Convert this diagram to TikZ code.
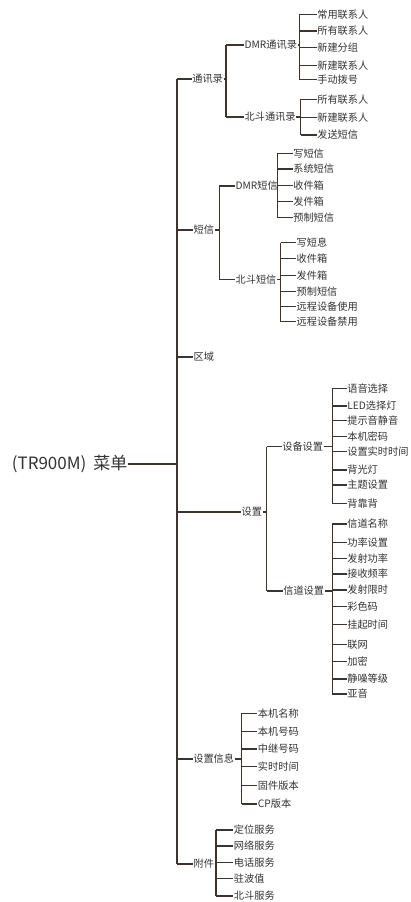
\documentclass[tikz,border=0pt]{standalone}
\usepackage{fontspec}
\setmainfont{Noto Sans CJK SC}
\definecolor{ln}{HTML}{3D3430}
\definecolor{txt}{HTML}{333333}
\begin{document}
\begin{tikzpicture}[x=1pt,y=-1pt,
  t/.style={font=\fontsize{10.2}{12}\selectfont, inner sep=0.4pt, anchor=west, text=txt},
  rt/.style={font=\fontsize{17}{20}\selectfont, inner sep=0.4pt, anchor=east, text=txt},
  ln/.style={draw=ln, line width=1.1pt}]
\useasboundingbox (0,0) rectangle (410,902);
% root
\node[rt] (root) at (128,464) {(TR900M)\hspace{7pt}菜单};
\coordinate (trunk) at (177,464);
% level 1
\node[t] (txl) at (191.7,79) {通讯录};
\node[t] (dx) at (193,230) {短信};
\node[t] (qy) at (193,357) {区域};
\node[t] (sz) at (241,512) {设置};
\node[t] (szxx) at (192.7,759) {设置信息};
\node[t] (fj) at (193,864) {附件};
\draw[ln] (root.east) -- (trunk);
\draw[ln] (txl.west -| trunk) -- (fj.west -| trunk);
\foreach \n in {txl,dx,qy,sz,szxx,fj} \draw[ln] (\n.west -| trunk) -- (\n.west);

% 通讯录
\coordinate (vT) at (226,0);
\node[t] (dmrtx) at (244,45) {DMR通讯录};
\node[t] (bdtx) at (244,117) {北斗通讯录};
\draw[ln] (dmrtx.west -| vT) -- (bdtx.west -| vT);
\draw[ln] (txl.east) -- (txl.east -| vT);
\foreach \n in {dmrtx,bdtx} \draw[ln] (\n.west -| vT) -- (\n.west);

\coordinate (vA) at (299.3,0);
\node[t] (a1) at (316.7,14.3) {常用联系人};
\node[t] (a2) at (316.7,31) {所有联系人};
\node[t] (a3) at (316.7,47.7) {新建分组};
\node[t] (a4) at (316.7,65.7) {新建联系人};
\node[t] (a5) at (316.7,79.3) {手动拨号};
\draw[ln] (a1.west -| vA) -- (a5.west -| vA);
\draw[ln] (dmrtx.east) -- (dmrtx.east -| vA);
\foreach \n in {a1,a2,a3,a4,a5} \draw[ln] (\n.west -| vA) -- (\n.west);

\coordinate (vB) at (300.7,0);
\node[t] (b1) at (316.7,99.3) {所有联系人};
\node[t] (b2) at (316.7,117.7) {新建联系人};
\node[t] (b3) at (316.7,135) {发送短信};
\draw[ln] (b1.west -| vB) -- (b3.west -| vB);
\draw[ln] (bdtx.east) -- (bdtx.east -| vB);
\foreach \n in {b1,b2,b3} \draw[ln] (\n.west -| vB) -- (\n.west);

% 短信
\coordinate (vD) at (219.3,0);
\node[t] (dmrdx) at (235,186) {DMR短信};
\node[t] (bddx) at (235,279.3) {北斗短信};
\draw[ln] (dmrdx.west -| vD) -- (bddx.west -| vD);
\draw[ln] (dx.east) -- (dx.east -| vD);
\foreach \n in {dmrdx,bddx} \draw[ln] (\n.west -| vD) -- (\n.west);

\coordinate (vC) at (277.3,0);
\node[t] (c1) at (292.7,153.3) {写短信};
\node[t] (c2) at (292.7,169) {系统短信};
\node[t] (c3) at (292.7,185.7) {收件箱};
\node[t] (c4) at (292.7,201.7) {发件箱};
\node[t] (c5) at (292.7,217.7) {预制短信};
\draw[ln] (c1.west -| vC) -- (c5.west -| vC);
\draw[ln] (dmrdx.east) -- (dmrdx.east -| vC);
\foreach \n in {c1,c2,c3,c4,c5} \draw[ln] (\n.west -| vC) -- (\n.west);

\coordinate (vE) at (280.7,0);
\node[t] (e1) at (296,242.7) {写短息};
\node[t] (e2) at (296,258.3) {收件箱};
\node[t] (e3) at (296,275.7) {发件箱};
\node[t] (e4) at (296,291.7) {预制短信};
\node[t] (e5) at (296,306.7) {远程设备使用};
\node[t] (e6) at (296,321.7) {远程设备禁用};
\draw[ln] (e1.west -| vE) -- (e6.west -| vE);
\draw[ln] (bddx.east) -- (bddx.east -| vE);
\foreach \n in {e1,e2,e3,e4,e5,e6} \draw[ln] (\n.west -| vE) -- (\n.west);

% 设置
\coordinate (vS) at (266.7,0);
\node[t] (sbsz) at (281.7,446.7) {设备设置};
\node[t] (xdsz) at (282.7,591) {信道设置};
\draw[ln] (sbsz.west -| vS) -- (xdsz.west -| vS);
\draw[ln] (sz.east) -- (sz.east -| vS);
\foreach \n in {sbsz,xdsz} \draw[ln] (\n.west -| vS) -- (\n.west);

\coordinate (vF) at (332.3,0);
\node[t] (f1) at (346.7,388.3) {语音选择};
\node[t] (f2) at (346.7,406) {LED选择灯};
\node[t] (f3) at (346.7,420.7) {提示音静音};
\node[t] (f4) at (346.7,436.7) {本机密码};
\node[t] (f5) at (346.7,451.7) {设置实时时间};
\node[t] (f6) at (346.7,470) {背光灯};
\node[t] (f7) at (346.7,485) {主题设置};
\node[t] (f8) at (346.7,503.3) {背靠背};
\draw[ln] (f1.west -| vF) -- (f8.west -| vF);
\draw[ln] (sbsz.east) -- (sbsz.east -| vF);
\foreach \n in {f1,f2,f3,f4,f5,f6,f7,f8} \draw[ln] (\n.west -| vF) -- (\n.west);

\node[t] (g1) at (346.7,524) {信道名称};
\node[t] (g2) at (346.7,542.7) {功率设置};
\node[t] (g3) at (346.7,558.3) {发射功率};
\node[t] (g4) at (346.7,574) {接收频率};
\node[t] (g5) at (346.7,590) {发射限时};
\node[t] (g6) at (346.7,606.7) {彩色码};
\node[t] (g7) at (346.7,624.3) {挂起时间};
\node[t] (g8) at (346.7,644.3) {联网};
\node[t] (g9) at (346.7,661.7) {加密};
\node[t] (g10) at (346.7,679) {静噪等级};
\node[t] (g11) at (346.7,694) {亚音};
\draw[ln] (g1.west -| vF) -- (g11.west -| vF);
\draw[ln] (xdsz.east) -- (xdsz.east -| vF);
\foreach \n in {g1,g2,g3,g4,g5,g6,g7,g8,g9,g10,g11} \draw[ln] (\n.west -| vF) -- (\n.west);

% 设置信息
\coordinate (vH) at (241.7,0);
\node[t] (h1) at (257.3,713.3) {本机名称};
\node[t] (h2) at (257.3,731.7) {本机号码};
\node[t] (h3) at (257.3,749) {中继号码};
\node[t] (h4) at (257.3,766.7) {实时时间};
\node[t] (h5) at (257.3,785.7) {固件版本};
\node[t] (h6) at (257.3,804) {CP版本};
\draw[ln] (h1.west -| vH) -- (h6.west -| vH);
\draw[ln] (szxx.east) -- (szxx.east -| vH);
\foreach \n in {h1,h2,h3,h4,h5,h6} \draw[ln] (\n.west -| vH) -- (\n.west);

% 附件
\coordinate (vJ) at (216,0);
\node[t] (j1) at (233.3,830) {定位服务};
\node[t] (j2) at (233.3,846) {网络服务};
\node[t] (j3) at (233.3,862.7) {电话服务};
\node[t] (j4) at (233.3,878.3) {驻波值};
\node[t] (j5) at (233.3,896) {北斗服务};
\draw[ln] (j1.west -| vJ) -- (j5.west -| vJ);
\draw[ln] (fj.east) -- (fj.east -| vJ);
\foreach \n in {j1,j2,j3,j4,j5} \draw[ln] (\n.west -| vJ) -- (\n.west);
\end{tikzpicture}
\end{document}
